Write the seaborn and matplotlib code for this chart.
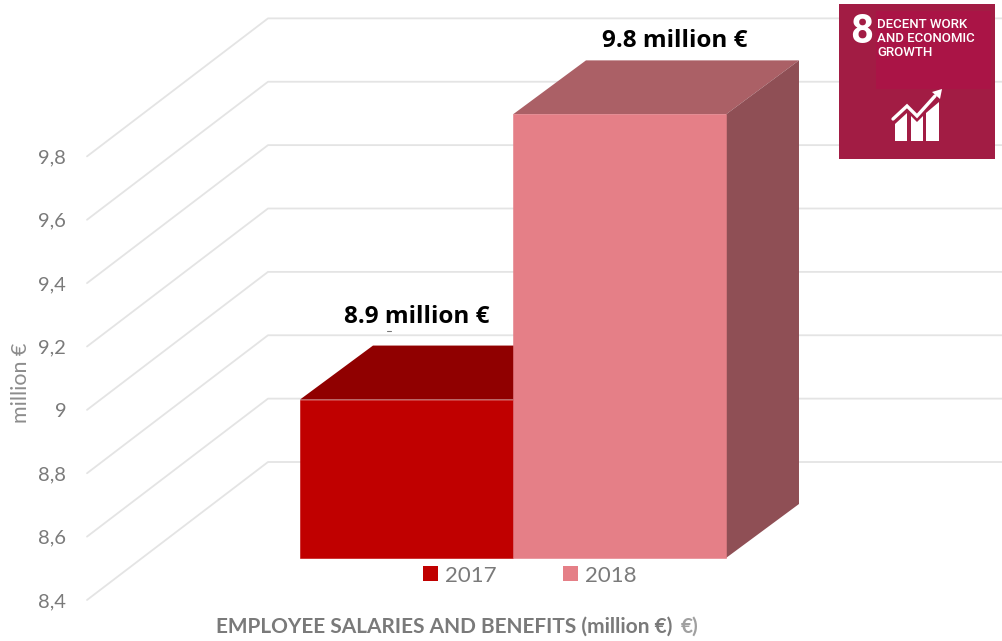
import matplotlib
matplotlib.use('Agg')
import matplotlib.pyplot as plt
from matplotlib.lines import Line2D
from matplotlib.patches import Patch, Polygon, Rectangle
from matplotlib.transforms import Affine2D, IdentityTransform
import numpy as np
import pandas as pd
import seaborn as sns

# data
years = ['2017', '2018']
salaries = [8.9, 9.8]
y_ticks = [8.4, 8.6, 8.8, 9.0, 9.2, 9.4, 9.6, 9.8]
y_tick_labels = ['8,4', '8,6', '8,8', '9', '9,2', '9,4', '9,6', '9,8']
front_colors = ['#C00000', '#E57F87']
top_colors = ['#900000', '#AB6066']
side_colors = ['#8A0000', '#8F4F55']
label_offsets = [(64, 125), (109, 115)]

W, H = 1003, 641
GREY = '#7a7a7a'
GRID = '#e4e4e4'
# fake 3D: wall depth and bar depth in pixels
WALL_DX, WALL_DY = 181, 138
BAR_SHIFT_X, BAR_SHIFT_Y = 54, 42
BAR_DX, BAR_DY = 73, 54

sns.set_theme(style='white')
plt.rcParams['font.family'] = ['Lato', 'DejaVu Sans']

fig = plt.figure(figsize=(W / 100, H / 100), dpi=100)
ax = fig.add_axes([87 / W, (H - 600) / H, (823 - 87) / W, (600 - 93) / H])
ax.patch.set_alpha(0)

df = pd.DataFrame({'year': years, 'salary': salaries})
sns.barplot(data=df, x='year', y='salary', hue='year', palette=dict(zip(years, front_colors)),
            width=1, dodge=False, legend=False, saturation=1, linewidth=0, ax=ax, zorder=3)

ax.set_xlim(-1.2465, 2.209)
ax.set_ylim(8.4, 10.0)
sns.despine(ax=ax, left=True, bottom=True)
ax.set_xticks([])
ax.set_xlabel('')
ax.set_yticks(y_ticks)
ax.set_yticklabels(y_tick_labels, fontsize=14.5, color=GREY)
ax.tick_params(axis='y', length=0, pad=15)
ax.set_ylabel('million €', fontsize=15.5, color='#8c8c8c')
ax.yaxis.set_label_coords((31 - 87) / (823 - 87), (600 - 383) / (600 - 93))

# gridlines: floor-to-wall diagonal, then along the back wall
for tick in y_ticks:
    x0, y0 = ax.transData.transform((ax.get_xlim()[0], tick))
    xs = [x0, x0 + WALL_DX, W]
    ys = [y0, y0 + WALL_DY, y0 + WALL_DY]
    fig.add_artist(Line2D(xs, ys, color=GRID, lw=1.3, transform=IdentityTransform(), zorder=0))

# move bars back into the scene and add the top and side faces
shift = ax.transData + Affine2D().translate(BAR_SHIFT_X, BAR_SHIFT_Y)
for i, (patch, value) in enumerate(zip(ax.patches, salaries)):
    patch.set_y(ax.get_ylim()[0])
    patch.set_height(value - ax.get_ylim()[0])
    patch.set_transform(shift)
    patch.set_clip_on(False)
    patch.set_zorder(4 + 2 * i)
    patch.set_edgecolor(front_colors[i])
    patch.set_linewidth(0.4)

    left, right = patch.get_x(), patch.get_x() + patch.get_width()
    (xl, yb) = shift.transform((left, ax.get_ylim()[0]))
    (xr, yt) = shift.transform((right, value))
    top = [(xl, yt), (xl + BAR_DX, yt + BAR_DY), (xr + BAR_DX, yt + BAR_DY), (xr, yt)]
    side = [(xr, yt), (xr + BAR_DX, yt + BAR_DY), (xr + BAR_DX, yb + BAR_DY), (xr, yb)]
    for pts, col in ((top, top_colors[i]), (side, side_colors[i])):
        ax.add_patch(Polygon(pts, closed=True, fc=col, ec='none', transform=IdentityTransform(),
                             clip_on=False, zorder=3 + 2 * i))

    ax.annotate(f'{value} million €', xy=(i, value), xytext=label_offsets[i],
                textcoords='offset pixels', ha='center', va='center', fontsize=17.5,
                fontweight='bold', color='black', family='Open Sans', zorder=10)

handles = [Patch(fc=c, ec='none') for c in front_colors]
fig.legend(handles, years, loc='center', bbox_to_anchor=(530 / W, 1 - 575.5 / H), ncol=2, frameon=False,
           fontsize=16, labelcolor=GREY, handlelength=0.68, handleheight=0.68,
           handletextpad=0.3, columnspacing=3.0)

fig.text(216 / W, 1 - 627 / H, 'EMPLOYEE SALARIES AND BENEFITS (million €)', fontsize=15,
         fontweight='bold', color=GREY, ha='left', va='center')
fig.text(681 / W, 1 - 627 / H, '€)', fontsize=15, fontweight='bold', color='#a0a0a0', ha='left', va='center')

# SDG badge, drawn in pixel coordinates
ov = fig.add_axes([0, 0, 1, 1], zorder=20)
ov.set_xlim(0, W)
ov.set_ylim(H, 0)
ov.axis('off')
ov.add_patch(Rectangle((839, 4), 156, 155, fc='#A21C44', ec='none'))
ov.add_patch(Rectangle((876, 11), 115, 78, fc='#AA1446', ec='none'))
ov.text(861.5, 32, '8', color='white', fontsize=29, fontweight='bold', ha='center', va='center',
        family='Roboto')
ov.text(877, 39, 'DECENT WORK\nAND ECONOMIC\nGROWTH', color='white', fontsize=9.5, fontweight='medium',
        ha='left', va='center', family='Roboto', linespacing=1.1)
for pts in ([(895, 141), (895, 124), (907, 113), (907, 141)],
            [(911, 141), (911, 116), (917, 122), (923, 116), (923, 141)],
            [(926, 141), (926, 113), (939, 102), (939, 141)]):
    ov.add_patch(Polygon(pts, closed=True, fc='white', ec='none'))
ov.plot([893, 907, 917, 935], [119, 106, 116, 96], color='white', lw=2.4, solid_joinstyle='miter')
ov.add_patch(Polygon([(942, 89), (932, 92), (940, 99)], closed=True, fc='white', ec='none'))
ov.plot([387, 391], [331, 331], color='#777777', lw=0.8)

fig.savefig('out.png', dpi=100, facecolor='white')
